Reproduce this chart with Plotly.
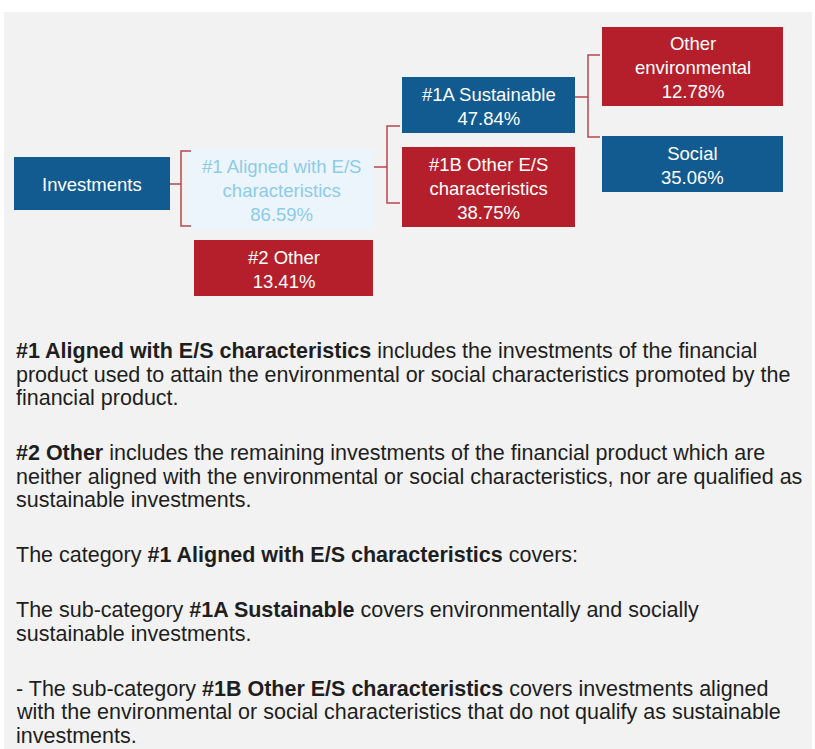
import plotly.graph_objects as go

# ---------------- data ----------------
node_names = ["Investments", "#1 Aligned with E/S<br>characteristics", "#2 Other",
              "#1A Sustainable", "#1B Other E/S<br>characteristics",
              "Other<br>environmental", "Social"]
node_shares = [None, 86.59, 13.41, 47.84, 38.75, 12.78, 35.06]
node_kind = ["blue", "light", "red", "blue", "red", "red", "blue"]

paragraphs = [
    ["<b>#1 Aligned with E/S characteristics</b> includes the investments of the financial",
     "product used to attain the environmental or social characteristics promoted by the",
     "financial product."],
    ["<b>#2 Other</b> includes the remaining investments of the financial product which are",
     "neither aligned with the environmental or social characteristics, nor are qualified as",
     "sustainable investments."],
    ["The category <b>#1 Aligned with E/S characteristics</b> covers:"],
    ["The sub-category <b>#1A Sustainable</b> covers environmentally and socially",
     "sustainable investments."],
    ["- The sub-category <b>#1B Other E/S characteristics</b> covers investments aligned",
     "with the environmental or social characteristics that do not qualify as sustainable",
     "investments."],
]

# ---------------- layout (pixel geometry) ----------------
W, H = 815, 749
boxes = [  # x0, x1, y0, y1
    (14, 170, 157, 210),
    (188, 374, 148, 230),
    (194, 373, 240, 296),
    (402, 575, 77, 133),
    (402, 575, 147, 227),
    (602, 783, 27, 106),
    (602, 783, 136, 192),
]
fills = {"blue": "#125B91", "red": "#B41F2B", "light": "#ECF5FB"}
txtcol = {"blue": "white", "red": "white", "light": "#8CCBEA"}

# brackets: (x_start, y_mid, x_vert, y_top, y_bot, x_tick)
brackets = [
    (170, 184, 181, 151, 226, 191),
    (374, 167, 387, 126, 203, 400),
    (575, 97, 588, 55, 137, 600),
]
bracket_color = "#B8474E"

FONT = "Liberation Sans, Arial, sans-serif"

fig = go.Figure()
fig.add_trace(go.Scatter(x=[0, W], y=[0, H], mode="markers",
                         marker=dict(opacity=0), hoverinfo="skip", showlegend=False))

shapes = []
# grey panel
shapes.append(dict(type="rect", xref="x", yref="y", x0=4, x1=812, y0=12, y1=H,
                   fillcolor="#F2F2F2", line=dict(width=0), layer="below"))

annotations = []
for name, share, kind, (x0, x1, y0, y1) in zip(node_names, node_shares, node_kind, boxes):
    shapes.append(dict(type="rect", xref="x", yref="y", x0=x0, x1=x1, y0=y0, y1=y1,
                       fillcolor=fills[kind], line=dict(width=0), layer="below"))
    label = name if share is None else f"{name}<br>{share:.2f}%"
    annotations.append(dict(x=(x0 + x1) / 2, y=(y0 + y1) / 2 + 1, xref="x", yref="y",
                            text=label, showarrow=False, xanchor="center", yanchor="middle",
                            align="center",
                            font=dict(family=FONT, size=18.5, color=txtcol[kind])))

for xs, ym, xv, yt, yb, xt in brackets:
    path = f"M {xs},{ym} L {xv},{ym} M {xt},{yt} L {xv},{yt} L {xv},{yb} L {xt},{yb}"
    shapes.append(dict(type="path", xref="x", yref="y", path=path,
                       line=dict(color=bracket_color, width=1.5)))

# body text
LINE = 23.5
GAP = 55
y = 351
for pi, para in enumerate(paragraphs):
    if pi > 0:
        y += GAP
    for li, line in enumerate(para):
        if li > 0:
            y += LINE
        annotations.append(dict(x=14, y=y, xref="x", yref="y", text=line, showarrow=False,
                                xanchor="left", yanchor="middle", align="left",
                                font=dict(family=FONT, size=21.5, color="#1E1E1E")))

fig.update_layout(
    width=W, height=H, margin=dict(l=0, r=0, t=0, b=0),
    paper_bgcolor="white", plot_bgcolor="white",
    xaxis=dict(range=[0, W], visible=False, fixedrange=True),
    yaxis=dict(range=[H, 0], visible=False, fixedrange=True),
    shapes=shapes, annotations=annotations, showlegend=False,
)

fig.write_html("out.html", config={"displayModeBar": False},
               post_script="document.body.style.margin='0';document.body.style.padding='0';")
